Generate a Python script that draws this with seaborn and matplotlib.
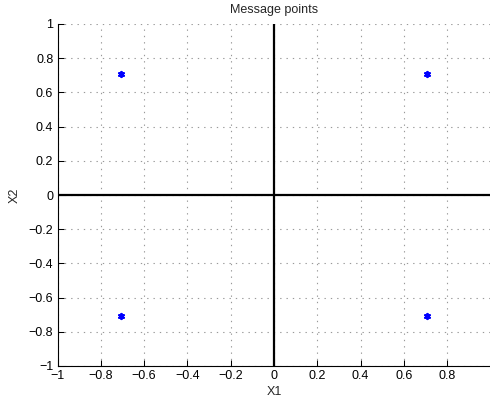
import matplotlib
matplotlib.use("Agg")
import matplotlib.pyplot as plt
import seaborn as sns
import pandas as pd

# Constellation (message) points in the X1-X2 signal space
x1 = [-0.7071, 0.7071, -0.7071, 0.7071]
x2 = [0.7071, 0.7071, -0.7071, -0.7071]
xticks = [-1, -0.8, -0.6, -0.4, -0.2, 0, 0.2, 0.4, 0.6, 0.8, 1]
xtick_labels = ["\u22121", "\u22120.8", "\u22120.6", "\u22120.4", "\u22120.2", "0", "0.2", "0.4", "0.6", "0.8", ""]
yticks = [-1, -0.8, -0.6, -0.4, -0.2, 0, 0.2, 0.4, 0.6, 0.8, 1]
ytick_labels = ["\u22121", "\u22120.8", "\u22120.6", "\u22120.4", "\u22120.2", "0", "0.2", "0.4", "0.6", "0.8", "1"]

df = pd.DataFrame({"X1": x1, "X2": x2})

sns.set_theme(style="white")
plt.rcParams["font.family"] = ["Liberation Sans", "DejaVu Sans"]

fig = plt.figure(figsize=(4.9, 4.03), dpi=100)
ax = fig.add_axes([57.5 / 490, 37 / 403, 433 / 490, 342 / 403])

ax.set_xlim(-1, 1)
ax.set_ylim(-1, 1)

# dotted grid
ax.set_xticks(xticks)
ax.set_yticks(yticks)
ax.grid(True, color="#999999", linestyle=(0, (1.2, 4.5)), linewidth=0.8)

# coordinate axes through the origin
ax.axhline(0, color="black", linewidth=1.6, zorder=2)
ax.axvline(0, color="black", linewidth=1.6, zorder=2)

sns.scatterplot(data=df, x="X1", y="X2", ax=ax, marker=(6, 2, 0), s=14,
                color="blue", edgecolor="blue", linewidth=1.5, zorder=3)

ax.set_xticklabels(xtick_labels)
ax.set_yticklabels(ytick_labels)
ax.tick_params(axis="both", direction="in", length=4, width=0.75,
               colors="black", labelsize=9, pad=3, bottom=True, left=True)

for side in ("top", "right"):
    ax.spines[side].set_visible(False)
for side in ("left", "bottom"):
    ax.spines[side].set_color("black")
    ax.spines[side].set_linewidth(0.8)

ax.set_title("Message points", fontsize=9, pad=8)
ax.set_xlabel("X1", fontsize=9, labelpad=3)
ax.set_ylabel("X2", fontsize=9, labelpad=6)

fig.savefig("out.png", dpi=100)
